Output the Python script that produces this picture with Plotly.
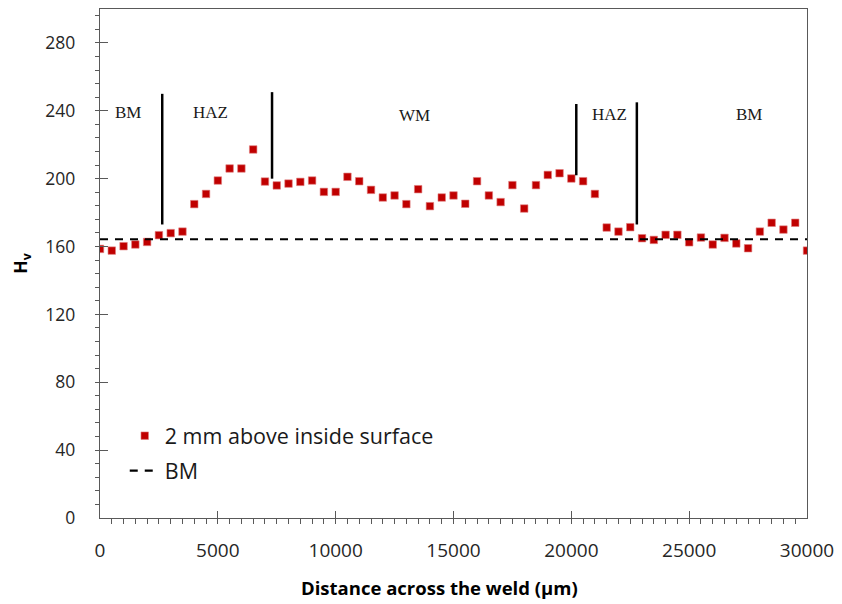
import plotly.graph_objects as go

# Hardness measurements, 2 mm above inside surface
distance_um = [i * 500 for i in range(61)]
hardness_hv = [158.6, 157.6, 160.2, 161.2, 162.7, 166.7, 167.9, 168.8, 185.0, 191.0,
               198.9, 206.0, 206.0, 217.2, 198.3, 196.0, 197.1, 198.1, 198.9, 192.2,
               192.2, 201.1, 198.5, 193.4, 188.9, 190.1, 185.0, 193.8, 183.8, 188.9,
               190.1, 185.2, 198.5, 190.1, 186.2, 196.2, 182.4, 196.2, 202.2, 203.2,
               200.1, 198.5, 191.0, 171.2, 168.8, 171.4, 164.9, 163.9, 166.9, 166.9,
               162.5, 165.3, 161.2, 165.1, 161.8, 159.0, 168.8, 174.0, 170.0, 174.0,
               157.6]

# Base metal reference hardness
bm_x = [0, 30000]
bm_hv = [164.3, 164.3]

# Zone boundary lines
boundary_x = [2640, 7300, 20210, 22780]
boundary_y0 = [173, 200, 202, 173]
boundary_y1 = [250, 251, 244, 245]

# Zone labels
zone_labels = ["BM", "HAZ", "WM", "HAZ", "BM"]
zone_x = [1190, 4700, 13350, 21600, 27540]
zone_y = [239, 239, 237, 238, 238]

x_title = "<b>Distance across the weld (µm)</b>"
y_title = "<b>H<sub>v</sub></b>"

fig = go.Figure()

fig.add_trace(go.Scatter(
    x=distance_um, y=hardness_hv, mode="markers",
    name="2 mm above inside surface", legendgroup="a",
    marker=dict(symbol="square", size=7.5, color="#C00000",
                line=dict(color="#E08080", width=0.6)),
))
fig.add_trace(go.Scatter(
    x=bm_x, y=bm_hv, mode="lines", name="BM", legendgroup="b",
    line=dict(color="black", width=2.2, dash="8px,7px"),
))
for bx, y0, y1 in zip(boundary_x, boundary_y0, boundary_y1):
    fig.add_trace(go.Scatter(
        x=[bx, bx], y=[y0, y1], mode="lines", showlegend=False,
        line=dict(color="black", width=2.5), hoverinfo="skip",
    ))

for t, x, y in zip(zone_labels, zone_x, zone_y):
    fig.add_annotation(x=x, y=y, text=t, showarrow=False,
                       font=dict(family="Liberation Serif", size=17, color="#1a1a1a"))

# x-axis title (slightly left of centre, as in the original)
fig.add_annotation(xref="paper", yref="paper", x=0.4795, y=-0.137,
                   xanchor="center", yanchor="middle", showarrow=False,
                   text=x_title, font=dict(family="Open Sans", size=18.5, color="black"))

axis_col = "#595959"
fig.update_xaxes(
    range=[0, 30000], dtick=5000, tick0=0, tickformat="d",
    showgrid=False, zeroline=False, automargin=False,
    showline=True, linecolor=axis_col, linewidth=1.3, mirror=True,
    ticks="inside", ticklen=7, tickcolor=axis_col, tickwidth=1,
    minor=dict(dtick=500, ticks="outside", ticklen=5, tickcolor=axis_col, tickwidth=1),
    tickfont=dict(family="Open Sans", size=19, color="#262626"),
    ticklabelstandoff=15,
)
fig.update_yaxes(
    range=[0, 300], dtick=40, tick0=0,
    showgrid=False, zeroline=False, automargin=False,
    showline=True, linecolor=axis_col, linewidth=1.3, mirror=True,
    ticks="inside", ticklen=8, tickcolor=axis_col, tickwidth=1,
    minor=dict(dtick=8, ticks="outside", ticklen=4, tickcolor=axis_col, tickwidth=1),
    tickfont=dict(family="Open Sans", size=17.5, color="#262626"),
    ticklabelstandoff=20,
    title=dict(text=y_title,
               font=dict(family="Open Sans", size=17.5, color="black"), standoff=17),
)

# The page body has an 8px default margin, so the figure is sized and offset to fit
fig.update_layout(
    width=834, height=596,
    margin=dict(l=92, r=35, t=1, b=86),
    paper_bgcolor="white", plot_bgcolor="white",
    showlegend=True,
    legend=dict(x=0.035, y=0.202, xanchor="left", yanchor="top",
                bgcolor="rgba(0,0,0,0)", tracegroupgap=4,
                font=dict(family="Open Sans", size=21.5, color="#1a1a1a")),
)

fig.write_html("out.html")
